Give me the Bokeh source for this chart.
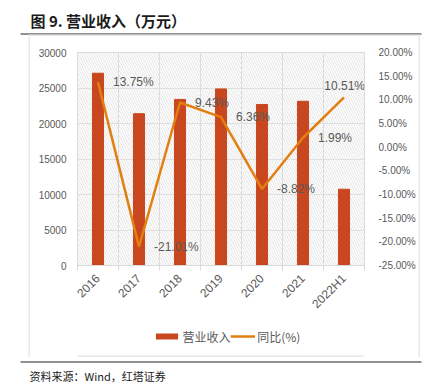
from math import pi
from bokeh.plotting import figure
from bokeh.layouts import column, row, Spacer
from bokeh.models import (Range1d, LinearAxis, FixedTicker, PrintfTickFormatter,
                          BoxAnnotation, ColumnDataSource, Grid)
from bokeh.core.properties import value
from bokeh.embed import file_html
from bokeh.resources import INLINE

categories = ["2016", "2017", "2018", "2019", "2020", "2021", "2022H1"]
revenue = [27080, 21380, 23390, 24870, 22680, 23130, 10740]
yoy = [13.75, -21.01, 9.43, 6.36, -8.82, 1.99, 10.51]
yoy_labels = ["13.75%", "-21.01%", "9.43%", "6.36%", "-8.82%", "1.99%", "10.51%"]
left_ticks = [0, 5000, 10000, 15000, 20000, 25000, 30000]
right_ticks = [-25, -20, -15, -10, -5, 0, 5, 10, 15, 20]

title_text = "图 9. 营业收入（万元）"
source_text = "资料来源：Wind，红塔证券"
legend_bar = "营业收入"
legend_line = "同比(%)"

FULL_W = 428
BOX = "#e8e8e8"
BAR_C = "#C9471E"
LINE_C = "#E37F10"
TXT_C = "#595959"


def blank_fig(w, h, bg="white"):
    f = figure(width=w, height=h, output_backend="svg", toolbar_location=None,
               x_range=Range1d(0, w), y_range=Range1d(0, h),
               x_axis_location=None, y_axis_location=None, min_border=0,
               background_fill_color=bg, border_fill_color=bg)
    f.outline_line_color = None
    f.xgrid.visible = False
    f.ygrid.visible = False
    return f


# ---------- header ----------
HH = 36
header = blank_fig(FULL_W, HH)
header.text(x=[30], y=[HH - 20], text=[title_text], text_font=value("Noto Sans CJK SC"),
            text_font_style="bold", text_font_size="15px", text_color="#1a1a1a",
            text_baseline="middle")
header.segment(x0=[20], x1=[421], y0=[2.5], y1=[2.5], line_color="#222222", line_width=1)
header.quad(left=[28], right=[420], bottom=[0], top=[2], fill_color=BOX, line_color=None)

# ---------- main chart ----------
MW, MH = 388, 284
FL, FT, FR, FB = 47, 16, 335, 229  # frame edges in main canvas coords

xs = [i + 0.5 for i in range(len(categories))]
src = ColumnDataSource(dict(x=xs, rev=revenue, yoy=yoy, lab=yoy_labels))

p = figure(width=MW, height=MH, output_backend="svg", toolbar_location=None,
           x_range=Range1d(0, len(categories)), y_range=Range1d(0, 30000),
           min_border_left=FL, min_border_right=MW - FR, min_border_top=FT,
           min_border_bottom=MH - FB, background_fill_color="white",
           border_fill_color="white")
p.extra_y_ranges = {"pct": Range1d(-25, 20)}
p.outline_line_color = "#d9d9d9"

p.add_layout(BoxAnnotation(fill_color=None, line_color=None, hatch_pattern="left_diagonal_line",
                           hatch_color="#e4e4e4", hatch_scale=5, hatch_weight=1, level="underlay"))

p.xaxis.ticker = FixedTicker(ticks=xs, minor_ticks=list(range(len(categories) + 1)))
p.xaxis.major_label_overrides = {x: c for x, c in zip(xs, categories)}
p.xaxis.major_tick_line_color = None
p.xaxis.minor_tick_line_color = "#d9d9d9"
p.xaxis.minor_tick_out = 5
p.xaxis.minor_tick_in = 0
p.xaxis.axis_line_color = "#d9d9d9"
p.xaxis.major_label_orientation = pi / 4
p.xaxis.major_label_text_font = "Liberation Sans"
p.xaxis.major_label_text_font_size = "12px"
p.xaxis.major_label_text_color = TXT_C
p.xaxis.major_label_standoff = 5

p.yaxis.ticker = FixedTicker(ticks=left_ticks)
p.yaxis.axis_line_color = None
p.yaxis.major_tick_line_color = None
p.yaxis.minor_tick_line_color = None
p.yaxis.major_label_text_font = "Liberation Sans"
p.yaxis.major_label_text_font_size = "10px"
p.yaxis.major_label_text_color = TXT_C
p.yaxis.major_label_standoff = 5

ra = LinearAxis(y_range_name="pct", ticker=FixedTicker(ticks=right_ticks),
                formatter=PrintfTickFormatter(format="%.2f%%"))
ra.axis_line_color = None
ra.major_tick_line_color = None
ra.minor_tick_line_color = None
ra.major_label_text_font = "Liberation Sans"
ra.major_label_text_font_size = "10px"
ra.major_label_text_color = TXT_C
ra.major_label_standoff = 8
p.add_layout(ra, "right")

p.xgrid.grid_line_color = None
p.add_layout(Grid(dimension=0, ticker=FixedTicker(ticks=list(range(len(categories) + 1))),
                  grid_line_color="#dcdcdc"))
p.ygrid.grid_line_color = "#dcdcdc"

p.vbar(x="x", top="rev", width=0.27, source=src, color=BAR_C)
p.line(x="x", y="yoy", source=src, y_range_name="pct", color=LINE_C, line_width=2.5)

n = len(categories)
src_a = ColumnDataSource(dict(x=xs[:n - 1], yoy=yoy[:n - 1], lab=yoy_labels[:n - 1]))
src_b = ColumnDataSource(dict(x=xs[n - 1:], yoy=yoy[n - 1:], lab=yoy_labels[n - 1:]))
p.text(x="x", y="yoy", text="lab", source=src_a, y_range_name="pct", x_offset=15,
       text_baseline="middle", text_align="left", text_font=value("Liberation Sans"),
       text_font_size="12px", text_color=TXT_C)
p.text(x="x", y="yoy", text="lab", source=src_b, y_range_name="pct", x_offset=21, y_offset=-11,
       text_baseline="middle", text_align="right", text_font=value("Liberation Sans"),
       text_font_size="12px", text_color=TXT_C)

# ---------- legend strip (inside the box) ----------
LH = 37
leg = blank_fig(MW, LH)
leg.quad(left=[106], right=[136], bottom=[LH - 19], top=[LH - 13], fill_color=BAR_C, line_color=None)
leg.text(x=[142], y=[LH - 16], text=[legend_bar], text_font=value("Noto Sans CJK SC"),
         text_font_size="12px", text_color=TXT_C, text_baseline="middle")
leg.segment(x0=[207], x1=[240], y0=[LH - 16], y1=[LH - 16], line_color=LINE_C, line_width=2.5)
leg.text(x=[243], y=[LH - 16], text=[legend_line], text_font=value("Noto Sans CJK SC"),
         text_font_size="12px", text_color=TXT_C, text_baseline="middle")
leg.quad(left=[0], right=[MW], bottom=[0], top=[2], fill_color=BOX, line_color=None)

box_body = column(p, leg, spacing=0)
main_row = row(Spacer(width=28, height=MH + LH), blank_fig(2, MH + LH, BOX), box_body,
               blank_fig(2, MH + LH, BOX), spacing=0)

# ---------- footer ----------
FH = 33
footer = blank_fig(FULL_W, FH)
footer.segment(x0=[20], x1=[421], y0=[FH - 4.5], y1=[FH - 4.5], line_color="#222222", line_width=1)
footer.text(x=[29], y=[FH - 18], text=[source_text], text_font=value("Noto Sans CJK SC"),
            text_font_size="11px", text_color="#1a1a1a", text_baseline="middle")

layout = column(header, main_row, footer, spacing=0)
open("out.html", "w").write(file_html(layout, INLINE))
